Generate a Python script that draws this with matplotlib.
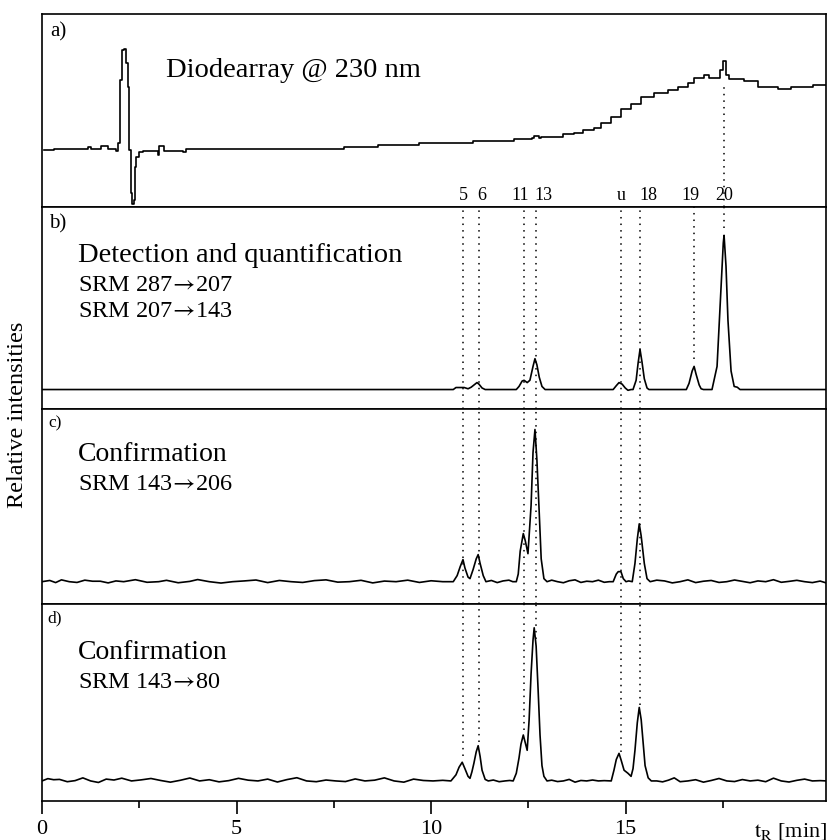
import numpy as np
import matplotlib.pyplot as plt

plt.rcParams['font.family'] = ['Liberation Serif', 'DejaVu Serif']
plt.rcParams['mathtext.fontset'] = 'stix'

# ---- data (time in min, intensities relative) ----
# a) diode array trace
t_a = [0.05, 0.31, 0.93, 1.18, 1.26, 1.52, 1.70, 1.90, 1.95, 2.01, 2.06, 2.11, 2.16, 2.20,
       2.24, 2.29, 2.31, 2.37, 2.39, 2.42, 2.49, 2.60, 2.93, 2.98, 3.01, 3.08, 3.14, 3.57,
       3.62, 3.70, 7.76, 8.64, 9.23, 9.69, 11.08, 12.13, 12.60, 12.65, 12.78, 12.83, 13.39,
       13.68, 13.91, 14.19, 14.37, 14.63, 14.88, 15.14, 15.40, 15.53, 15.73, 16.09, 16.35,
       16.61, 16.76, 17.02, 17.15, 17.38, 17.43, 17.51, 17.58, 17.66, 18.05, 18.41, 18.82,
       18.92, 19.18, 19.25, 19.82, 20.18]
v_a = [29.5, 29.9, 29.9, 31.1, 29.9, 31.8, 29.9, 29.2, 33.2, 65.8, 81.3, 81.9, 74.6, 62.2,
       29.5, 7.3, 1.6, 3.6, 20.7, 25.9, 28.5, 29.2, 29.2, 26.9, 31.6, 31.6, 29.2, 29.2,
       28.7, 30.1, 31.2, 32.1, 32.1, 33.0, 34.2, 35.2, 36.0, 36.9, 35.6, 36.4, 37.7,
       38.5, 39.9, 41.1, 43.4, 46.8, 50.6, 53.4, 56.8, 57.2, 58.9, 60.6, 62.0,
       64.1, 66.7, 68.4, 67.0, 67.0, 71.0, 75.6, 68.4, 66.3, 65.3, 62.3, 62.0,
       61.0, 61.0, 62.0, 63.2, 63.2]

# b) SRM 287->207 / 207->143
t_b = [0.00, 10.57, 10.64, 10.85, 10.95, 11.03, 11.13, 11.18, 11.23, 11.31, 11.39, 12.19,
       12.26, 12.34, 12.39, 12.47, 12.54, 12.62, 12.67, 12.72, 12.78, 12.85, 12.93, 14.68,
       14.76, 14.83, 14.91, 14.99, 15.06, 15.14, 15.19, 15.27, 15.32, 15.37, 15.42, 15.48,
       15.55, 15.60, 16.56, 16.63, 16.71, 16.76, 16.81, 16.89, 16.94, 17.00, 17.22, 17.35,
       17.43, 17.51, 17.53, 17.58, 17.63, 17.71, 17.79, 17.87, 17.94, 20.18]
v_b = [0, 0, 1.3, 1.3, 0.5, 1.5, 3.5, 4.5, 3.5, 1, 0, 0,
       2, 5.5, 6, 4.5, 6, 15, 20, 16, 8, 2, 0, 0,
       2.5, 4.5, 3.5, 1, -0.5, 0, 0, 6, 17, 26, 18, 7,
       1, 0, 0, 4, 12, 15, 10, 3, 0.5, 0, 0, 15,
       55, 95, 100, 80, 45, 12, 2, 1.5, 0, 0]

# c) SRM 143->206
t_c = [0.00, 0.20, 0.35, 0.50, 0.70, 0.90, 1.10, 1.30, 1.50, 1.70, 1.90, 2.10, 2.40, 2.70,
       3.00, 3.20, 3.50, 3.80, 4.00, 4.30, 4.60, 4.90, 5.20, 5.50, 5.80, 6.10, 6.40, 6.70,
       7.00, 7.30, 7.60, 7.90, 8.20, 8.50, 8.80, 9.10, 9.40, 9.70, 10.00, 10.30,
       10.57, 10.67, 10.75, 10.82, 10.87, 10.95, 11.00, 11.08, 11.16, 11.21, 11.26, 11.34, 11.41,
       11.55, 11.70, 11.85, 12.00, 12.10,
       12.19, 12.24, 12.29, 12.37, 12.42, 12.49, 12.57, 12.62, 12.67, 12.72, 12.78, 12.83, 12.90, 12.98,
       13.10, 13.25, 13.40, 13.55, 13.70, 13.85, 14.00, 14.15, 14.30, 14.45, 14.58,
       14.68, 14.76, 14.81, 14.88, 14.94, 15.01, 15.08,
       15.17, 15.24, 15.30, 15.35, 15.40, 15.48, 15.55, 15.63,
       15.80, 16.00, 16.20, 16.40, 16.60, 16.80, 17.00, 17.20, 17.40, 17.60, 17.80, 18.00,
       18.20, 18.40, 18.60, 18.80, 19.00, 19.20, 19.40, 19.60, 19.80, 20.00, 20.18]
v_c = [0.0, 0.8, -0.6, 1.2, 0.0, -0.5, 1.0, 0.3, 0.3, -0.8, 0.5, 0.0, 1.3, -0.4,
       0.0, 0.9, -0.7, 0.2, 1.4, 0.0, -0.9, 0.0, 0.5, 1.1, -0.6, 0.8, 0.0, -0.5,
       0.7, 1.2, -0.3, 0.0, 0.9, -0.8, 0.4, 0.0, 1.0, -0.5, 0.6, 0.0,
       0, 4, 10, 14.5, 9, 3, 2, 8, 15, 17.8, 12, 4, 0,
       0.8, -0.6, 0.5, 1.0, 0.0,
       0, 5, 20, 31.6, 27, 18.4, 50, 85, 100, 80, 45, 15, 2, 0,
       1.0, 0.0, -0.7, 0.6, 1.2, -0.5, 0.3, 0.0, 1.0, -0.4, 0.0,
       0, 5, 6.6, 6.6, 2, 0, 0.5,
       0, 12, 28, 38, 30, 12, 2, 0,
       1.0, 0.5, -0.8, 0.0, 1.2, -0.6, 0.3, 0.8, -0.5, 0.0, 1.1, 0.2,
       -0.7, 0.5, 0.0, 1.3, -0.4, 0.2, 0.9, 0.0, -0.6, 0.4, -1.0]

# d) SRM 143->80
t_d = [0.00, 0.15, 0.30, 0.45, 0.65, 0.85, 1.05, 1.25, 1.45, 1.65, 1.85, 2.05, 2.30, 2.55,
       2.80, 3.05, 3.30, 3.55, 3.80, 4.05, 4.30, 4.55, 4.80, 5.05, 5.30, 5.55, 5.80, 6.05,
       6.30, 6.55, 6.80, 7.05, 7.30, 7.55, 7.80, 8.05, 8.30, 8.55, 8.80, 9.05, 9.30, 9.55,
       9.80, 10.05, 10.30,
       10.51, 10.64, 10.72, 10.80, 10.87, 10.95, 11.00, 11.05, 11.10, 11.16, 11.21, 11.26,
       11.31, 11.39, 11.47,
       11.60, 11.75, 11.90, 12.02,
       12.11, 12.19, 12.26, 12.31, 12.37, 12.42, 12.47, 12.52, 12.57, 12.62, 12.65, 12.70,
       12.75, 12.80, 12.85, 12.90, 12.98,
       13.10, 13.25, 13.40, 13.55, 13.70, 13.85, 14.00, 14.15, 14.30, 14.45,
       14.63, 14.70, 14.76, 14.83, 14.88, 14.96, 15.06, 15.14, 15.19, 15.24, 15.30, 15.35,
       15.40, 15.45, 15.50, 15.58, 15.66,
       15.80, 15.95, 16.10, 16.25, 16.40, 16.60, 16.80, 17.00, 17.20, 17.40, 17.60, 17.80,
       18.00, 18.20, 18.40, 18.60, 18.80, 19.00, 19.20, 19.40, 19.60, 19.80, 20.00, 20.18]
v_d = [0.0, 1.5, 0.8, 1.0, -0.5, 0.2, 2.0, 0.0, -1.0, 1.2, 0.6, 1.8, 0.0, 0.7,
       1.6, 0.3, -0.8, 0.4, 1.9, 0.0, 0.8, -0.6, 0.2, 1.7, 0.5, 0.0, 1.2, -0.7,
       0.9, 2.1, 0.0, -0.5, 0.6, 0.0, -0.4, 1.3, 0.0, 0.5, 2.0, 0.0, -0.8, 1.2,
       0.3, 0.0, 0.4,
       0, 4, 9, 12.2, 8, 3, 1.7, 6, 11.5, 19, 23, 16,
       7, 1, 0,
       0.6, -0.5, 0.0, 0.3,
       0, 5, 15, 24, 30, 25, 20, 40, 70, 92, 100, 88,
       60, 30, 10, 3, 0,
       0.5, -0.4, 0.0, 1.0, -0.8, 0.3, 0.0, 0.6, 0.0, 0.2,
       0, 7, 14, 18, 14, 7, 5, 3, 8, 20, 38, 48,
       40, 25, 10, 2, 0,
       0.0, -0.6, 0.5, 2.0, -0.5, 0.0, 0.8, -0.8, 0.3, 1.6, 0.0, -0.4,
       0.9, 0.0, 0.5, -0.5, 1.8, 0.0, -0.7, 0.4, 1.2, 0.0, 0.2, 0.0]

# peak identification
peak_ids = ['5', '6', '11', '13', 'u', '18', '19', '20']
peak_t = [10.82, 11.23, 12.39, 12.70, 14.88, 15.37, 16.76, 17.53]
label_t = [10.82, 11.29, 12.29, 12.88, 14.88, 15.58, 16.66, 17.53]
confirmed = ['5', '6', '11', '13', 'u', '18']

fig = plt.figure(figsize=(8.28, 8.40), dpi=100)
gs = fig.add_gridspec(4, 1, height_ratios=[193, 201, 195, 197], hspace=0,
                      left=42/828, right=826/828, top=1-14/840, bottom=1-801/840)
axes = [fig.add_subplot(gs[i]) for i in range(4)]
ax_a, ax_b, ax_c, ax_d = axes

lw_trace = 1.2
ax_a.plot(t_a, v_a, color='k', lw=lw_trace, drawstyle='steps-post')
ax_b.plot(t_b, v_b, color='k', lw=lw_trace)
ax_c.plot(t_c, v_c, color='k', lw=lw_trace)
ax_d.plot(t_d, v_d, color='k', lw=lw_trace)

ax_a.set_ylim(0, 100)
ax_b.set_ylim(-12.3, 118.2)
ax_c.set_ylim(-14.5, 113.8)
ax_d.set_ylim(-13.1, 115.7)

for ax in axes:
    ax.set_xlim(0, 20.15)
    ax.set_yticks([])
    for s in ax.spines.values():
        s.set_linewidth(1.2)
    ax.tick_params(axis='x', bottom=False, labelbottom=False, which='both')

ax_d.set_xticks([0, 5, 10, 15])
ax_d.set_xticks([2.5, 7.5, 12.5, 17.5], minor=True)
ax_d.tick_params(axis='x', which='major', bottom=True, labelbottom=True,
                 direction='out', length=9, width=1.2, labelsize=16, pad=5)
ax_d.tick_params(axis='x', which='minor', bottom=True, direction='out', length=5, width=1.2)

dot = (0, (1, 3.3))
gap = 5

# dotted guide lines
for pid, t in zip(peak_ids, peak_t):
    top_b = ax_b.get_ylim()[1]
    if pid in confirmed:
        ax_b.plot([t, t], list(ax_b.get_ylim()), color='k', lw=1.1, ls=dot)
        ax_c.plot([t, t], list(ax_c.get_ylim()), color='k', lw=1.1, ls=dot)
        ax_d.plot([t, t], [np.interp(t, t_d, v_d) + gap, ax_d.get_ylim()[1]],
                  color='k', lw=1.1, ls=dot)
    else:
        ax_b.plot([t, t], [np.interp(t, t_b, v_b) + gap, top_b], color='k', lw=1.1, ls=dot)
    if pid == '20':
        ax_a.plot([t, t], [0, np.interp(t, t_a, v_a) - 9], color='k', lw=1.1, ls=dot)

for pid, t in zip(peak_ids, label_t):
    ax_a.text(t, 3.6, pid, ha='center', va='baseline', fontsize=13)

# panel texts (figure pixel positions from the reference)
W, H = 828, 840
def ftext(x, y, s, size):
    fig.text(x / W, 1 - y / H, s, fontsize=size, ha='left', va='baseline')

arrow = r'$\!\rightarrow\!$'
ftext(50, 36, 'a)', 15)
ftext(166, 77, 'Diodearray @ 230 nm', 20.5)
ftext(49, 228, 'b)', 15)
ftext(78, 262, 'Detection and quantification', 20.5)
ftext(78, 291, 'SRM 287' + arrow + '207', 17.5)
ftext(78, 317, 'SRM 207' + arrow + '143', 17.5)
ftext(48, 427, 'c)', 12.5)
ftext(78, 461, 'Confirmation', 20)
ftext(78, 490, 'SRM 143' + arrow + '206', 17.5)
ftext(47, 622, 'd)', 12.5)
ftext(78, 659, 'Confirmation', 20)
ftext(78, 688, 'SRM 143' + arrow + '80', 17.5)

fig.text(18 / W, 1 - 415 / H, 'Relative intensities', rotation=90,
         ha='center', va='center', fontsize=17.5)
fig.text(827 / W, 1 - 836 / H, r'$\mathrm{t_R}$ [min]', ha='right', va='baseline',
         fontsize=16)

fig.savefig('out.png', dpi=100)
